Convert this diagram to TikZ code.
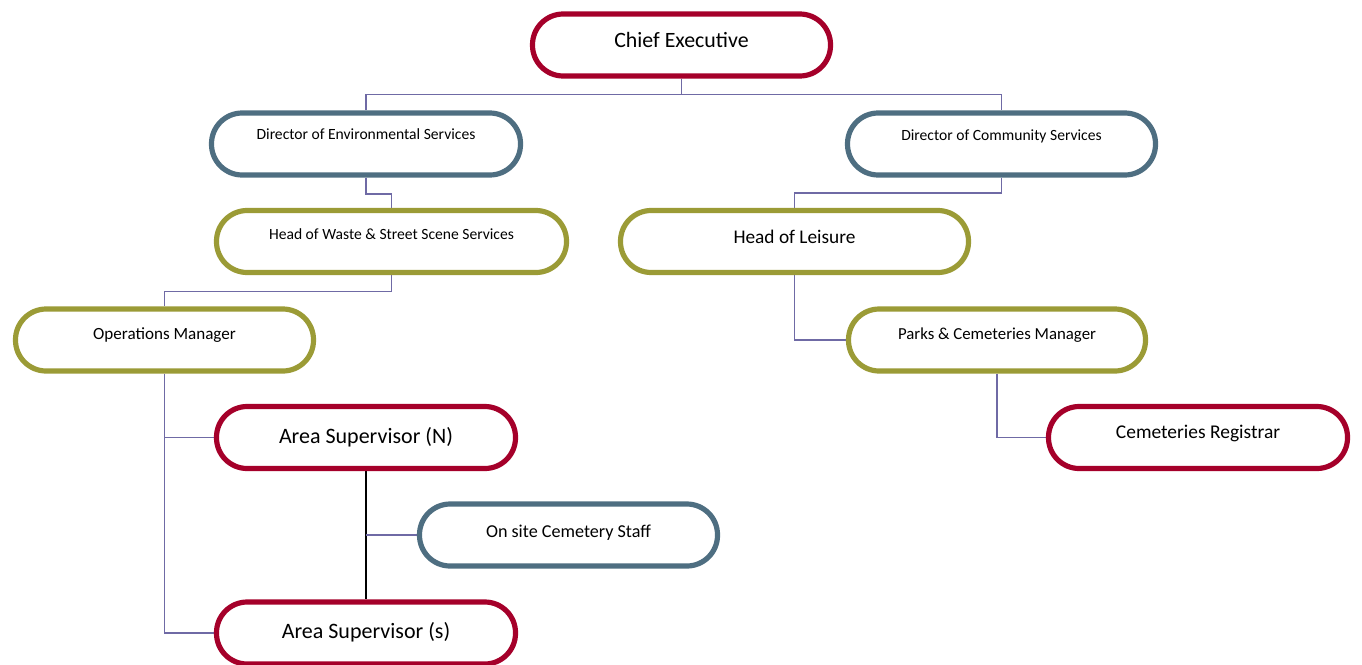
\documentclass[tikz,border=0pt]{standalone}
\usepackage{fontspec}
\setmainfont{Carlito}
\usetikzlibrary{backgrounds}
\definecolor{cred}{HTML}{A5002A}
\definecolor{cblue}{HTML}{4E6E81}
\definecolor{colive}{HTML}{9B9B36}
\definecolor{cline}{HTML}{6F6AA5}
\tikzset{
  box/.style={draw=#1, line width=3.9pt, fill=white, rounded corners=23pt,
    minimum height=46.5pt, inner sep=0pt, align=center},
  conn/.style={draw=cline, line width=1.1pt},
}
\newcommand{\rt}[3]{\raisebox{#1}{\fontsize{#2}{#2}\selectfont #3}}
\begin{document}
\begin{tikzpicture}[x=0.75pt,y=-0.75pt]
\useasboundingbox (0,0) rectangle (1362,664);
\node[box=cred, minimum width=298*0.75pt] (ce) at (681.5,45) {\rt{7.5pt}{16.4pt}{Chief Executive}};
\node[box=cblue, minimum width=309*0.75pt] (de) at (366,144) {\rt{14.25pt}{11.7pt}{Director of Environmental Services}};
\node[box=cblue, minimum width=308*0.75pt] (dc) at (1001.5,144) {\rt{14pt}{11.7pt}{Director of Community Services}};
\node[box=colive, minimum width=350*0.75pt] (hw) at (391.5,241.5) {\rt{11.5pt}{11.7pt}{Head of Waste \& Street Scene Services}};
\node[box=colive, minimum width=348*0.75pt] (hl) at (794.5,241.5) {\rt{7.5pt}{14.5pt}{Head of Leisure}};
\node[box=colive, minimum width=298*0.75pt] (om) at (164.5,340) {\rt{10.25pt}{12.8pt}{Operations Manager}};
\node[box=colive, minimum width=297*0.75pt] (pk) at (997,340) {\rt{10.25pt}{12.6pt}{Parks \& Cemeteries Manager}};
\node[box=cred, minimum width=299*0.75pt] (an) at (366,437.5) {\rt{1.5pt}{16.5pt}{Area Supervisor (N)}};
\node[box=cred, minimum width=299*0.75pt] (cr) at (1198,437.5) {\rt{9.25pt}{14.6pt}{Cemeteries Registrar}};
\node[box=cblue, minimum width=298*0.75pt] (os) at (568.5,535) {\rt{6pt}{13.6pt}{On site Cemetery Staff}};
\node[box=cred, minimum width=299*0.75pt] (as) at (366,633) {\rt{3.75pt}{16.5pt}{Area Supervisor (s)}};
\coordinate (j) at (an.south |- os.west);
\begin{scope}[on background layer]
\draw[conn] (ce.south) -- ++(0,16) -| (de.north);
\draw[conn] (ce.south) -- ++(0,16) -| (dc.north);
\draw[conn] (de.south) -- ++(0,16.5) -| (hw.north);
\draw[conn] (dc.south) -- ++(0,15.5) -| (hl.north);
\draw[conn] (hw.south) -- ++(0,16.5) -| (om.north);
\draw[conn] (hl.south) |- (pk.west);
\draw[conn] (pk.south) |- (cr.west);
\draw[conn] (om.south) |- (an.west);
\draw[conn] (om.south) |- (as.west);
\draw[black, line width=1.5pt] (an.south) -- (as.north);
\draw[conn] (j) -- (os.west);
\end{scope}
\end{tikzpicture}
\end{document}
